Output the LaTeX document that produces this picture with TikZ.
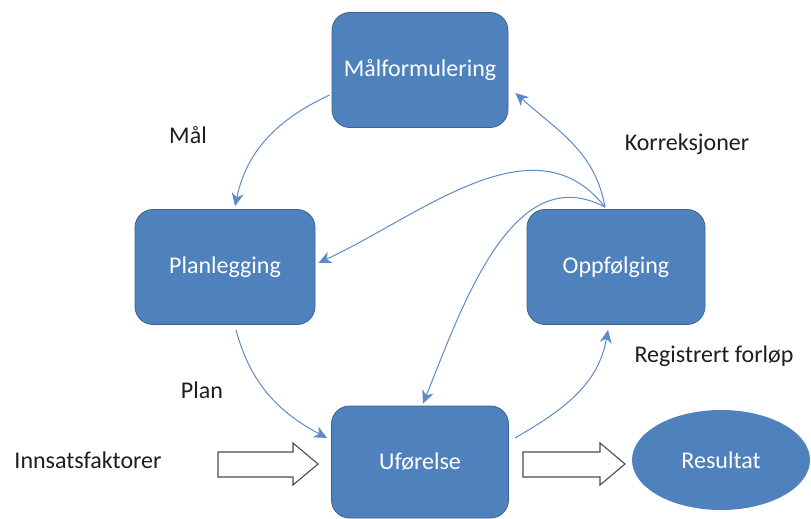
\documentclass[tikz,border=0pt]{standalone}
\usepackage{fontspec}
\setmainfont{Carlito}
\usepackage{tikz}
\usetikzlibrary{arrows.meta, positioning, calc, shapes.geometric}
\definecolor{boxblue}{RGB}{79,129,189}
\definecolor{boxline}{RGB}{60,98,146}
\definecolor{linkblue}{RGB}{92,140,200}
\definecolor{txtgray}{RGB}{30,30,30}

\tikzset{
  stagebox/.style={rectangle, rounded corners=18pt, fill=boxblue, draw=boxline,
    line width=0.8pt, text=white, font=\fontsize{24}{28}\selectfont},
  link/.style={draw=linkblue, line width=1pt,
    -{Stealth[length=13pt, width=12pt, inset=4pt]}},
  lbl/.style={text=txtgray, font=\fontsize{24}{28}\selectfont},
  fatarrow/.style={draw=black!70, fill=white, line width=1.1pt, line join=miter}
}

\begin{document}
\begin{tikzpicture}[x=1pt, y=-1pt]
  \fill[white] (0,0) rectangle (811,519);
  \useasboundingbox (0,0) rectangle (811,519);

  % the four stages
  \node[stagebox, minimum width=176pt, minimum height=115pt] (mal) at (420,70) {Målformulering};
  \node[stagebox, minimum width=180pt, minimum height=115pt] (plan) at (225,267) {Planlegging};
  \node[stagebox, minimum width=178pt, minimum height=115pt] (opp) at (616,267) {Oppfølging};
  \node[stagebox, minimum width=177pt, minimum height=112pt] (ufo) at (420,462) {Uførelse};
  \node[ellipse, fill=boxblue, text=white, minimum width=178pt, minimum height=100pt,
    font=\fontsize{24}{28}\selectfont] (res) at (721,460) {Resultat};

  % labels
  \node[lbl] (maltxt) at (188,135) {Mål};
  \node[lbl] (plantxt) at (202,390) {Plan};
  \node[lbl] (kortxt) at (687,144) {Korreksjoner};
  \node[lbl] (regtxt) at (714,356) {Registrert forløp};
  \node[lbl] (inntxt) at (88,460) {Innsatsfaktorer};

  % cycle
  \coordinate (ostart) at ([xshift=-11pt, yshift=2pt]opp.north);
  \draw[link] ([xshift=-2pt, yshift=-25pt]mal.west) to[out=205, in=78] ([xshift=10pt, yshift=3pt]plan.north);
  \draw[link] ([xshift=11pt, yshift=-5pt]plan.south) to[out=-75, in=152] ([xshift=-4pt, yshift=24pt]ufo.west);
  \draw[link] ([xshift=6pt, yshift=24pt]ufo.east) to[out=30, in=-100] ([xshift=-8pt, yshift=-5pt]opp.south);
  \draw[link] (ostart) to[out=100, in=-42] ([xshift=7pt, yshift=-23pt]mal.east);
  \draw[link] (ostart) to[out=128, in=25] ([xshift=3pt, yshift=4pt]plan.east);
  \draw[link] (ostart) to[out=152, in=68] ([xshift=3pt, yshift=2pt]ufo.north);

  % input and output
  \draw[fatarrow] (218,452) -- (293,452) -- (293,443) -- (318,464)
    -- (293,485) -- (293,477) -- (218,477) -- cycle;
  \draw[fatarrow] (523,452) -- (600,452) -- (600,443) -- (625,464)
    -- (600,485) -- (600,477) -- (523,477) -- cycle;
\end{tikzpicture}
\end{document}
